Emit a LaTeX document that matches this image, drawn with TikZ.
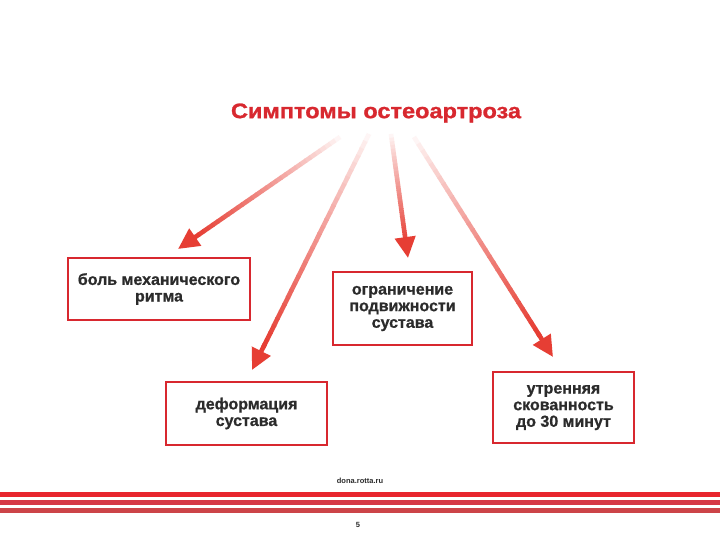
\documentclass[tikz,border=0pt]{standalone}
\usepackage{fontspec}
\setmainfont{Liberation Sans}
\newfontfamily\titlefont[FakeStretch=1.12,FakeBold=1.2]{Liberation Sans Bold}
\newfontfamily\boxfont[FakeBold=0.8]{Liberation Sans Bold}
\usetikzlibrary{arrows.meta,calc}
\definecolor{boxred}{HTML}{D8282F}
\definecolor{arrred}{HTML}{E63E34}
\definecolor{txtgray}{HTML}{2B2B2B}
\definecolor{stripeA}{HTML}{E8262E}
\definecolor{stripeB}{HTML}{D63845}
\definecolor{stripeC}{HTML}{CC4448}
\tikzset{
  symbox/.style={draw=boxred, line width=2.6, fill=white, align=center, inner sep=0,
    text=txtgray, font=\boxfont\fontsize{16}{16.6}\selectfont},
  stripe/.style={line width=4.2},
}
\newcommand{\gradarrow}[2]{%
  \foreach \i in {0,...,29} {%
    \pgfmathsetmacro\fracA{0.9*\i/30}%
    \pgfmathsetmacro\fracB{0.9*(\i+1)/30+0.004}%
    \pgfmathsetmacro\pct{5+95*(\i/29)^0.9}%
    \draw[line width=4.6, color=arrred!\pct!white] ($(#1)!\fracA!(#2)$) -- ($(#1)!\fracB!(#2)$);
  }%
  \draw[line width=4.6, arrred, -{Triangle[length=21,width=20]}] ($(#1)!0.89!(#2)$) -- (#2);
}
\begin{document}
\begin{tikzpicture}[x=1pt,y=-1pt]
\useasboundingbox (0,0) rectangle (720,540);
\fill[white] (0,0) rectangle (720,540);

\node[text=boxred, font=\titlefont\fontsize{21}{25}\selectfont] (title) at (376,113) {Симптомы остеоартроза};

\node[symbox, minimum width=182, minimum height=62] (b1) at (159,289) {боль механического\\ритма};
\node[symbox, minimum width=139, minimum height=73] (b2) at (402.5,308.5) {ограничение\\подвижности\\сустава};
\node[symbox, minimum width=161, minimum height=63] (b3) at (246.5,413.5) {деформация\\сустава};
\node[symbox, minimum width=141, minimum height=71] (b4) at (563.5,407.5) {утренняя\\скованность\\до 30 минут};

\coordinate (s1) at (340,137);
\coordinate (s2) at (369,134);
\coordinate (s3) at (391,134);
\coordinate (s4) at (414,137);
\coordinate (t1) at (178,249);
\coordinate (t2) at (252,370);
\coordinate (t3) at (408,258);
\coordinate (t4) at (553,357);

\gradarrow{s1}{t1}
\gradarrow{s2}{t2}
\gradarrow{s3}{t3}
\gradarrow{s4}{t4}

\node[font=\bfseries\fontsize{7.5}{9}\selectfont, text=txtgray] (url) at (360,481) {dona.rotta.ru};
\draw[stripe, stripeA] (0,494.5) -- (720,494.5);
\draw[stripe, stripeB] (0,502.5) -- (720,502.5);
\draw[stripe, stripeC] (0,510.5) -- (720,510.5);
\node[font=\bfseries\fontsize{7.5}{9}\selectfont, text=txtgray] (page) at (358,525) {5};
\end{tikzpicture}
\end{document}
